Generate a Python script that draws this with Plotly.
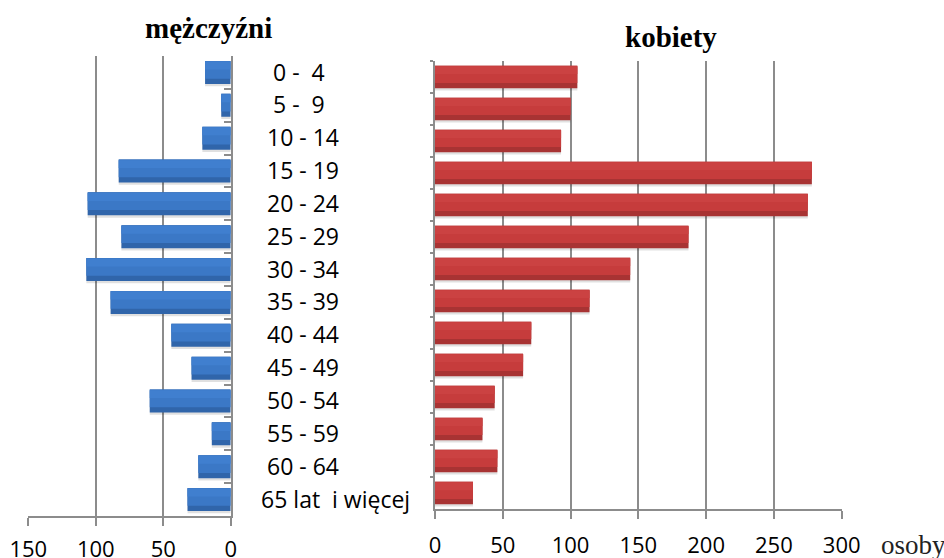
import plotly.graph_objects as go

# ---- data ----
age_groups = ["0-4", "5-9", "10-14", "15-19", "20-24", "25-29", "30-34",
              "35-39", "40-44", "45-49", "50-54", "55-59", "60-64", "65+"]
age_labels = ["\u00a0\u00a00 -\u00a0\u00a04", "\u00a0\u00a05 -\u00a0\u00a09",
              "\u00a010 - 14", "\u00a015 - 19", "\u00a020 - 24", "\u00a025 - 29",
              "\u00a030 - 34", "\u00a035 - 39", "\u00a040 - 44", "\u00a045 - 49",
              "\u00a050 - 54", "\u00a055 - 59", "\u00a060 - 64",
              "65 lat\u00a0\u00a0i więcej"]
men = [19, 7, 21, 83, 106, 81, 107, 89, 44, 29, 60, 14, 24, 32]
women = [105, 100, 93, 278, 275, 187, 144, 114, 71, 65, 44, 35, 46, 28]
men_ticks = [0, 50, 100, 150]
women_ticks = [0, 50, 100, 150, 200, 250, 300]

title_men = "mężczyźni"
title_women = "kobiety"
unit_label = "osoby"

GRID = "#8c8c8c"
FONT = "Open Sans"
SERIF = "Liberation Serif"

fig = go.Figure()


def add_bars(values, xa, ya, base_col, light_col, dark_col):
    # soft shadow
    fig.add_trace(go.Bar(y=age_groups, x=values, orientation="h",
                         xaxis=xa, yaxis=ya, width=0.72, offset=-0.30,
                         marker=dict(color="rgba(0,0,0,0.12)", line=dict(width=0)),
                         hoverinfo="skip", showlegend=False))
    # darker full bar
    fig.add_trace(go.Bar(y=age_groups, x=values, orientation="h",
                         xaxis=xa, yaxis=ya, width=0.70, offset=-0.35,
                         marker=dict(color=dark_col, line=dict(width=0)),
                         showlegend=False))
    # main body
    fig.add_trace(go.Bar(y=age_groups, x=values, orientation="h",
                         xaxis=xa, yaxis=ya, width=0.54, offset=-0.35,
                         marker=dict(color=base_col, line=dict(width=0)),
                         hoverinfo="skip", showlegend=False))
    # light top highlight
    fig.add_trace(go.Bar(y=age_groups, x=values, orientation="h",
                         xaxis=xa, yaxis=ya, width=0.24, offset=-0.33,
                         marker=dict(color=light_col, line=dict(width=0)),
                         hoverinfo="skip", showlegend=False))


add_bars(men, "x", "y", "#3b78c6", "#407fcf", "#3065aa")
add_bars(women, "x2", "y2", "#c63c3c", "#cb4242", "#a83333")

fig.update_layout(
    width=944, height=558,
    margin=dict(l=0, r=0, t=0, b=0, autoexpand=False),
    paper_bgcolor="white", plot_bgcolor="white",
    barmode="overlay",
    font=dict(family=FONT, size=22, color="#000000"),
    xaxis=dict(domain=[0.030, 0.2444], range=[150, 0], tickvals=men_ticks,
               showgrid=True, gridcolor=GRID, gridwidth=1.5, zeroline=False,
               showline=True, linecolor=GRID, linewidth=1.5,
               ticks="outside", ticklen=8, tickcolor=GRID, tickwidth=1.5,
               ticklabelstandoff=5, anchor="y", automargin=False,
               tickfont=dict(family=FONT, size=22, color="#000")),
    yaxis=dict(domain=[0.0753, 0.8996], type="category",
               categoryorder="array", categoryarray=age_groups,
               autorange="reversed", side="right", anchor="x",
               tickvals=age_groups, ticktext=age_labels,
               showline=True, linecolor=GRID, linewidth=1.5,
               ticks="inside", tickson="boundaries", ticklen=7,
               tickcolor=GRID, tickwidth=1.5, ticklabelstandoff=24,
               showgrid=False, zeroline=False, automargin=False,
               tickfont=dict(family=FONT, size=23, color="#000")),
    xaxis2=dict(domain=[0.4608, 0.8916], range=[0, 300], tickvals=women_ticks,
                showgrid=True, gridcolor=GRID, gridwidth=1.5, zeroline=False,
                showline=True, linecolor=GRID, linewidth=1.5,
                ticks="outside", ticklen=8, tickcolor=GRID, tickwidth=1.5,
                ticklabelstandoff=8, anchor="y2", automargin=False,
                tickfont=dict(family=FONT, size=22, color="#000")),
    yaxis2=dict(domain=[0.0878, 0.8907], type="category",
                categoryorder="array", categoryarray=age_groups,
                autorange="reversed", anchor="x2", side="left",
                showticklabels=False, showline=True, linecolor=GRID,
                linewidth=1.5, ticks="outside", tickson="boundaries",
                ticklen=3, tickcolor=GRID, tickwidth=1.5, automargin=False,
                showgrid=False, zeroline=False),
    annotations=[
        dict(text="<b>" + title_men + "</b>", xref="paper", yref="paper",
             x=208 / 944, y=1 - 28 / 558, xanchor="center", yanchor="middle",
             showarrow=False, font=dict(family=SERIF, size=29, color="#000")),
        dict(text="<b>" + title_women + "</b>", xref="paper", yref="paper",
             x=671 / 944, y=1 - 37 / 558, xanchor="center", yanchor="middle",
             showarrow=False, font=dict(family=SERIF, size=29, color="#000")),
        dict(text=unit_label, xref="paper", yref="paper",
             x=913 / 944, y=1 - 545 / 558, xanchor="center", yanchor="middle",
             showarrow=False, font=dict(family=SERIF, size=27, color="#222")),
    ],
)

fig.write_html("out.html",
               config={"displayModeBar": False},
               post_script="document.body.style.margin='0';"
                           "document.body.style.overflow='hidden';")
